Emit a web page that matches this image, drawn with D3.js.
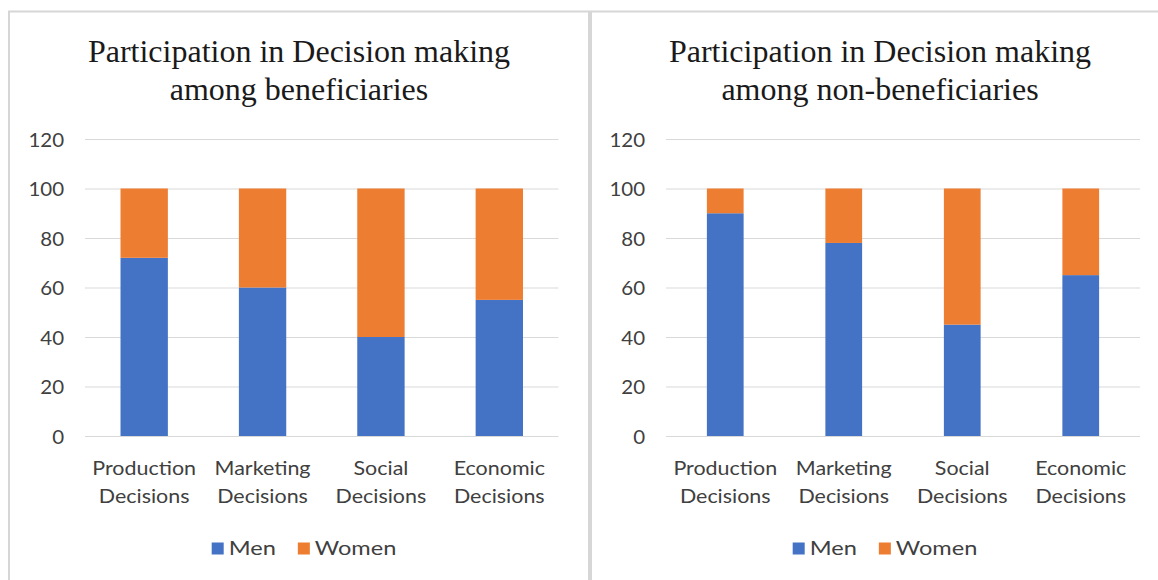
<!DOCTYPE html>
<html>
<head>
<meta charset="utf-8">
<script src="https://cdn.jsdelivr.net/npm/d3@7"></script>
<style>
  html, body { margin: 0; padding: 0; background: #ffffff; }
  svg { display: block; }
</style>
</head>
<body>
<svg id="chart" width="1158" height="580"></svg>
<script>
// ---- data ----
const categories = ["Production Decisions", "Marketing Decisions", "Social Decisions", "Economic Decisions"];
const seriesNames = ["Men", "Women"];
const beneficiariesMen = [72, 60, 40, 55];
const beneficiariesWomen = [28, 40, 60, 45];
const nonBeneficiariesMen = [90, 78, 45, 65];
const nonBeneficiariesWomen = [10, 22, 55, 35];
const yTickValues = [0, 20, 40, 60, 80, 100, 120];
const titleBeneficiaries = ["Participation in Decision making", "among beneficiaries"];
const titleNonBeneficiaries = ["Participation in Decision making", "among non-beneficiaries"];

const colors = ["#4472C4", "#ED7D31"];
const labelFont = "Lato, 'Open Sans', sans-serif";
const titleFont = "'Liberation Serif', 'Times New Roman', serif";
const textColor = "#404040";

const svg = d3.select("#chart");

function drawPanel(opts) {
  const g = svg.append("g");
  // panel border
  g.append("rect")
    .attr("x", opts.bx).attr("y", 11.5)
    .attr("width", opts.bw).attr("height", 620)
    .attr("fill", "#ffffff").attr("stroke", "#d6d6d6").attr("stroke-width", 2);

  // title
  const cx = opts.bx + opts.bw / 2;
  g.append("text")
    .attr("x", cx).attr("y", 62)
    .attr("text-anchor", "middle")
    .attr("font-family", titleFont).attr("font-size", 32)
    .attr("fill", "#1a1a1a")
    .selectAll("tspan").data(opts.title).join("tspan")
    .attr("x", cx).attr("dy", (d, i) => i === 0 ? 0 : 37.5)
    .text(d => d);

  const y = d3.scaleLinear().domain([0, 120]).range([436, 139]);
  const x = d3.scaleBand().domain(categories)
    .range([opts.plotL, opts.plotR])
    .paddingInner(opts.gap).paddingOuter(opts.gap / 2);

  // gridlines + y labels
  const tickPad = 21, tickScale = 1.05;
  const yAxis = d3.axisLeft(y).tickValues(yTickValues).tickSize(-(opts.plotR - opts.plotL)).tickPadding(tickPad);
  const ya = g.append("g").attr("transform", `translate(${opts.plotL},0)`).call(yAxis);
  ya.select(".domain").remove();
  ya.selectAll(".tick line").attr("stroke", "#d9d9d9").attr("stroke-width", 1);
  ya.selectAll(".tick text")
    .attr("font-family", labelFont).attr("font-size", 19.5)
    .attr("fill", textColor).attr("dy", "0.36em")
    .attr("x", -tickPad / tickScale)
    .attr("transform", `scale(${tickScale},1)`);

  // stacked bars
  const rows = categories.map((c, i) => ({ cat: c, Men: opts.men[i], Women: opts.women[i] }));
  const stacked = d3.stack().keys(seriesNames)(rows);
  g.append("g").selectAll("g").data(stacked).join("g")
    .attr("fill", (d, i) => colors[i])
    .selectAll("rect").data(d => d).join("rect")
    .attr("x", d => x(d.data.cat))
    .attr("width", x.bandwidth())
    .attr("y", d => y(d[1]))
    .attr("height", d => y(d[0]) - y(d[1]));

  // category labels (x axis)
  const xAxis = d3.axisBottom(x).tickSize(0).tickFormat("");
  const xa = g.append("g").attr("transform", "translate(0,436)").call(xAxis);
  xa.select(".domain").remove();
  xa.selectAll(".tick").each(function(d) {
    const words = d.split(" ");
    const t = d3.select(this).append("text")
      .attr("text-anchor", "middle")
      .attr("font-family", labelFont).attr("font-size", 19.5)
      .attr("transform", "scale(1.1,1)")
      .attr("fill", textColor);
    words.forEach((w, i) => {
      t.append("tspan").attr("x", 0).attr("y", 39.5 + i * 27.5).text(w);
    });
  });

  // legend
  const leg = g.append("g");
  const items = leg.selectAll("g").data(seriesNames).join("g");
  items.append("rect").attr("width", 12).attr("height", 12).attr("y", -12.5)
    .attr("fill", (d, i) => colors[i]);
  items.append("g").attr("transform", "translate(17,0) scale(1.18,1)")
    .append("text").attr("x", 0).attr("y", 0)
    .attr("font-family", labelFont).attr("font-size", 20)
    .attr("fill", textColor).text(d => d);
  let off = 0;
  items.each(function() {
    d3.select(this).attr("transform", `translate(${off},555)`);
    off += this.getBBox().width + 22;
  });
  const totalW = off - 22;
  leg.attr("transform", `translate(${cx + 5 - totalW / 2},0)`);
}

drawPanel({ bx: 9, bw: 580, plotL: 85, plotR: 558.5, gap: 0.6,
  men: beneficiariesMen, women: beneficiariesWomen, title: titleBeneficiaries });
drawPanel({ bx: 591, bw: 578, plotL: 666, plotR: 1140, gap: 0.69,
  men: nonBeneficiariesMen, women: nonBeneficiariesWomen, title: titleNonBeneficiaries });
</script>
</body>
</html>
